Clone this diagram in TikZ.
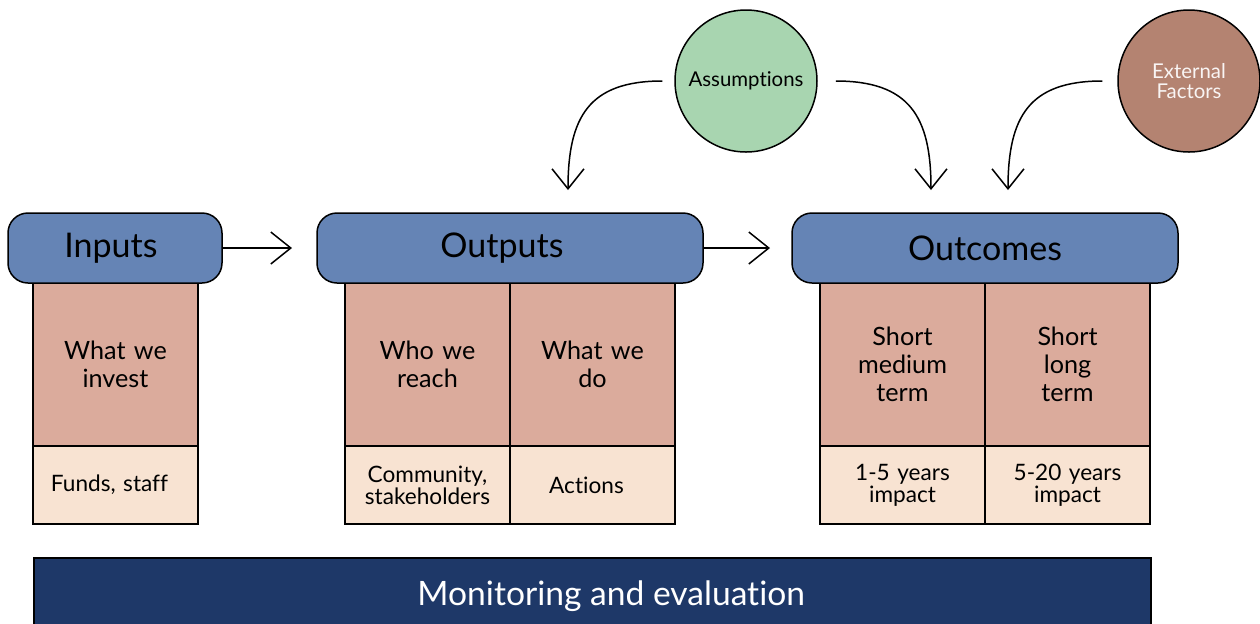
\documentclass[tikz,border=0pt]{standalone}
\usepackage{fontspec}
\setmainfont{Lato}[Ligatures={NoCommon}]
\usetikzlibrary{arrows.meta,positioning}
\definecolor{headblue}{HTML}{6584B5}
\definecolor{cellpink}{HTML}{DBAB9C}
\definecolor{cellpeach}{HTML}{F8E3D2}
\definecolor{barnavy}{HTML}{1E3868}
\definecolor{assgreen}{HTML}{A8D5B0}
\definecolor{extbrown}{HTML}{B48371}
\begin{document}
\begin{tikzpicture}[x=0.5pt,y=-0.5pt,line width=0.75pt,>={Straight Barb[length=10pt,width=16pt]},
  head/.style={draw=black,fill=headblue,rounded corners=10pt,minimum height=35pt,inner sep=0pt,outer sep=0pt,font=\fontsize{17}{20}\selectfont},
  upper/.style={draw=black,fill=cellpink,minimum width=82.5pt,minimum height=81.5pt,text width=76pt,align=center,inner sep=0pt,outer sep=0pt,font=\fontsize{12.6}{14}\selectfont},
  lower/.style={draw=black,fill=cellpeach,minimum width=82.5pt,minimum height=39pt,text width=76pt,align=center,inner sep=0pt,outer sep=0pt,font=\fontsize{11.3}{11}\selectfont},
  factor/.style={circle,draw=black,minimum size=71pt,inner sep=0pt,align=center,font=\fontsize{10.2}{10}\selectfont},
  link/.style={->,line width=0.75pt}]
\useasboundingbox (0,0) rectangle (1260,623);

% columns under the headers
\node[upper] (u1) at (115.5,364.5) {What we\\invest};
\node[lower] (l1) [below=0pt of u1] {\hspace*{-6pt}Funds, staff};
\node[upper] (u2) at (427.5,364.5) {Who we\\reach};
\node[lower] (l2) [below=0pt of u2] {Community,\\stakeholders};
\node[upper] (u3) [right=0pt of u2] {What we\\do};
\node[lower] (l3) [below=0pt of u3] {\hspace*{-6pt}Actions};
\node[upper] (u4) at (902.5,364.5) {Short\\medium\\term};
\node[lower] (l4) [below=0pt of u4] {1-5 years\\impact};
\node[upper] (u5) [right=0pt of u4] {Short\\long\\term};
\node[lower] (l5) [below=0pt of u5] {5-20 years\\impact};

% headers
\node[head,minimum width=107pt] (hin) at (115,248) {\hspace*{-4pt}Inputs};
\node[head,minimum width=193pt] (hout) at (510,248) {\hspace*{-8pt}Outputs};
\node[head,minimum width=193pt] (hoc) at (985,248) {Outcomes};
\draw[link] (hin.east) -- ([xshift=35pt]hin.east);
\draw[link] (hout.east) -- ([xshift=33.5pt]hout.east);

% factors
\node[factor,fill=assgreen] (ass) at (746,81) {Assumptions};
\node[factor,fill=extbrown,text=white!92!extbrown] (ext) at (1189,81) {External\\Factors};
\coordinate (a1) at (568,190);
\coordinate (a2) at (931,190);
\coordinate (a3) at (1008,190);
\draw[link] ([xshift=-6pt]ass.west) to[out=180,in=90,looseness=1.3] (a1);
\draw[link] ([xshift=9pt]ass.east) to[out=0,in=90,looseness=1.3] (a2);
\draw[link] ([xshift=-7.5pt]ext.west) to[out=180,in=90,looseness=1.3] (a3);

% bottom bar
\node[draw=black,fill=barnavy,minimum width=558.5pt,minimum height=35pt,anchor=north west,inner sep=0pt] (mon) at (33,557) {};
\node[text=white,font=\fontsize{16.8}{19}\selectfont] at ([xshift=9.5pt,yshift=-1.5pt]mon.center) {Monitoring and evaluation};
\end{tikzpicture}
\end{document}
